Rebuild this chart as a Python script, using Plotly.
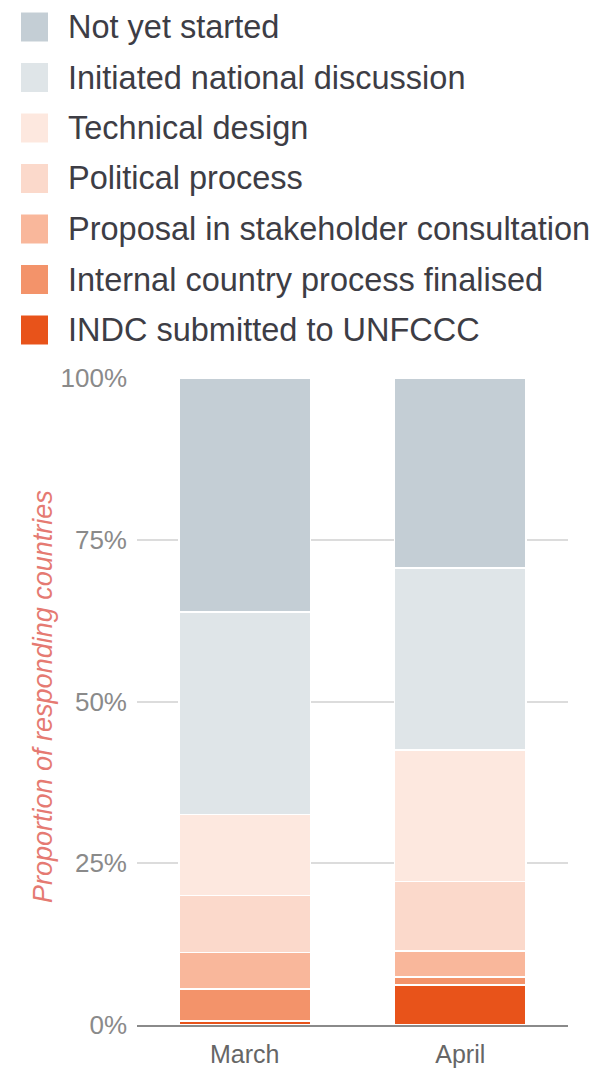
import plotly.graph_objects as go

months = ["March", "April"]
series_names = [
    "INDC submitted to UNFCCC",
    "Internal country process finalised",
    "Proposal in stakeholder consultation",
    "Political process",
    "Technical design",
    "Initiated national discussion",
    "Not yet started",
]
series_colors = ["#e8531a", "#f3936a", "#f9b79b", "#fbd9cb", "#fde8df", "#dfe5e8", "#c4ced5"]
values_march = [0.6, 5.0, 5.6, 8.8, 12.5, 31.3, 36.2]
values_april = [6.2, 1.2, 4.0, 10.8, 20.3, 28.1, 29.4]
y_ticks = [0, 25, 50, 75, 100]
y_tick_labels = ["0%", "25%", "50%", "75%", "100%"]

W, H = 613, 1069
OFF = 8  # page body margin
PLOT_L, PLOT_R, PLOT_T, PLOT_B = 137, 568, 378, 1025  # target page pixels
L, T = PLOT_L - OFF, PLOT_T - OFF
R, B = W - (PLOT_R - OFF), H - (PLOT_B - OFF)
PW, PH = PLOT_R - PLOT_L, PLOT_B - PLOT_T

def px_x(p):
    return (p - PLOT_L) / PW

def px_y(p):
    return (PLOT_B - p) / PH

FONT = "Liberation Sans, Arial"

fig = go.Figure()
for name, col, m, a in zip(series_names, series_colors, values_march, values_april):
    fig.add_trace(go.Bar(
        x=months, y=[m, a], name=name,
        marker=dict(color=col, line=dict(color="white", width=1.5)),
        showlegend=False,
    ))

shapes = []
annotations = []
row0, step = 27.0, 50.5
for i, (name, col) in enumerate(zip(series_names[::-1], series_colors[::-1])):
    cy = row0 + i * step
    shapes.append(dict(type="rect", xref="paper", yref="paper",
                       x0=px_x(21), x1=px_x(48), y0=px_y(cy - 14.5), y1=px_y(cy + 14.5),
                       fillcolor=col, line=dict(width=0), layer="above"))
    annotations.append(dict(text=name, xref="paper", yref="paper",
                            x=px_x(66), y=px_y(cy), xanchor="left", yanchor="middle",
                            showarrow=False,
                            font=dict(family=FONT, size=32.5, color="#3d3d45")))

annotations.append(dict(text="<i>Proportion of responding countries</i>", xref="paper", yref="paper",
                        x=px_x(43), y=px_y(697), xanchor="center", yanchor="middle",
                        textangle=-90, showarrow=False,
                        font=dict(family=FONT, size=27, color="#e57a72")))

fig.update_layout(
    width=W, height=H,
    margin=dict(l=L, r=R, t=T, b=B, pad=0),
    barmode="stack", bargap=0.39,
    paper_bgcolor="white", plot_bgcolor="white",
    shapes=shapes, annotations=annotations,
    font=dict(family=FONT),
    xaxis=dict(showgrid=False, showline=True, linecolor="#8a8a8a", linewidth=2,
               ticks="", tickfont=dict(size=25, color="#666666"), ticklabelstandoff=6,
               automargin=False, fixedrange=True),
    yaxis=dict(range=[0, 100], tickvals=y_ticks, ticktext=y_tick_labels,
               showgrid=True, gridcolor="#dcdcdc", gridwidth=1.5, zeroline=False,
               ticks="", tickfont=dict(size=26, color="#8a8a8a"), ticklabelstandoff=9,
               automargin=False, fixedrange=True),
)

fig.write_html("out.html")
